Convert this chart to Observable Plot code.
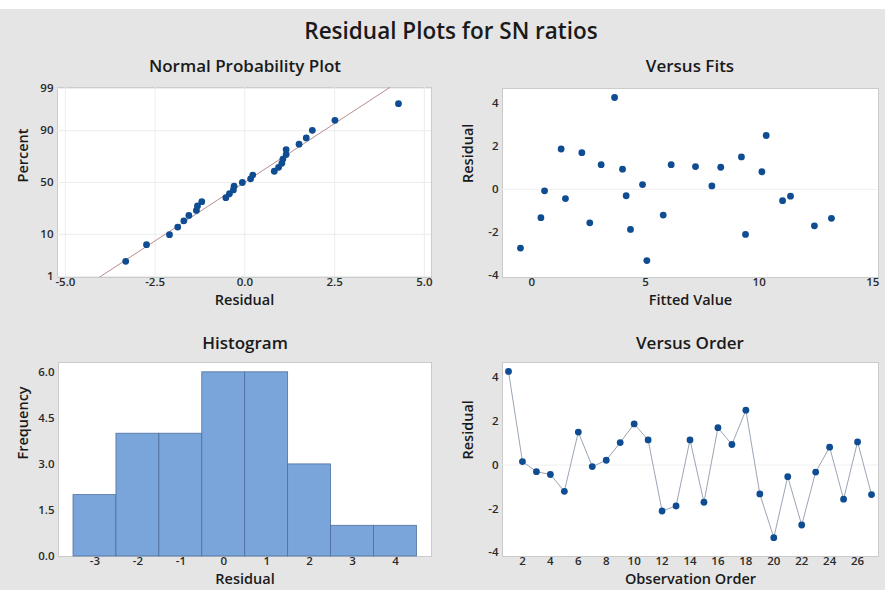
<!DOCTYPE html>
<html><head><meta charset="utf-8">
<script src="https://cdn.jsdelivr.net/npm/d3@7"></script>
<script src="https://cdn.jsdelivr.net/npm/@observablehq/plot@0.6"></script>
<style>
body{margin:0;background:#fff;}
#wrap{position:relative;width:885px;height:590px;background:#e5e5e5;overflow:hidden;font-family:"Open Sans",sans-serif;}
#band{position:absolute;left:0;top:0;width:885px;height:9px;background:#fff;}
.t{position:absolute;font-weight:600;color:#1a1a1a;white-space:nowrap;transform:translate(-50%,-50%);}
.panel{position:absolute;}
</style></head><body>
<div id="wrap">
  <div id="band"></div>
  <div class="t" style="left:451px;top:30px;font-size:22.5px;">Residual Plots for SN ratios</div>
  <div class="t" style="left:245px;top:65px;font-size:17px;">Normal Probability Plot</div>
  <div class="t" style="left:690px;top:65px;font-size:17px;">Versus Fits</div>
  <div class="t" style="left:245px;top:342px;font-size:17px;">Histogram</div>
  <div class="t" style="left:690px;top:342px;font-size:17px;">Versus Order</div>
  <div class="panel" id="p1" style="left:0;top:80px;"></div>
  <div class="panel" id="p2" style="left:445px;top:80px;"></div>
  <div class="panel" id="p3" style="left:0;top:330px;"></div>
  <div class="panel" id="p4" style="left:445px;top:330px;"></div>
</div>
<script>
// ---- data (by observation order) ----
const residuals = [4.28, 0.16, -0.30, -0.43, -1.20, 1.51, -0.07, 0.22, 1.03, 1.88,
  1.15, -2.10, -1.87, 1.15, -1.70, 1.71, 0.94, 2.51, -1.32, -3.32,
  -0.53, -2.74, -0.32, 0.82, -1.56, 1.06, -1.35];
const fits = [3.64, 7.92, 4.15, 1.48, 5.78, 9.22, 0.56, 4.87, 8.31, 1.29,
  3.05, 9.40, 4.34, 6.13, 12.43, 2.20, 3.99, 10.31, 0.40, 5.06,
  11.03, -0.50, 11.38, 10.12, 2.55, 7.20, 13.18];

const nppXTicks = [-5, -2.5, 0, 2.5, 5];
const pctTicks = [1, 10, 50, 90, 99];
const fitXTicks = [0, 5, 10, 15];
const resTicks = [-4, -2, 0, 2, 4];
const histEdges = [-3.5, -2.5, -1.5, -0.5, 0.5, 1.5, 2.5, 3.5, 4.5];
const histXTicks = [-3, -2, -1, 0, 1, 2, 3, 4];
const freqTicks = [0, 1.5, 3, 4.5, 6];
const orderTicks = [2, 4, 6, 8, 10, 12, 14, 16, 18, 20, 22, 24, 26];

// inverse standard normal (Acklam)
function probit(p) {
  const a = [-3.969683028665376e+01, 2.209460984245205e+02, -2.759285104469687e+02, 1.383577518672690e+02, -3.066479806614716e+01, 2.506628277459239e+00];
  const b = [-5.447609879822406e+01, 1.615858368580409e+02, -1.556989798598866e+02, 6.680131188771972e+01, -1.328068155288572e+01];
  const c = [-7.784894002430293e-03, -3.223964580411365e-01, -2.400758277161838e+00, -2.549732539343734e+00, 4.374664141464968e+00, 2.938163982698783e+00];
  const d = [7.784695709041462e-03, 3.224671290700398e-01, 2.445134137142996e+00, 3.754408661907416e+00];
  const pl = 0.02425, ph = 1 - pl;
  let q, r;
  if (p < pl) { q = Math.sqrt(-2 * Math.log(p)); return (((((c[0]*q+c[1])*q+c[2])*q+c[3])*q+c[4])*q+c[5]) / ((((d[0]*q+d[1])*q+d[2])*q+d[3])*q+1); }
  if (p <= ph) { q = p - 0.5; r = q*q; return (((((a[0]*r+a[1])*r+a[2])*r+a[3])*r+a[4])*r+a[5])*q / (((((b[0]*r+b[1])*r+b[2])*r+b[3])*r+b[4])*r+1); }
  q = Math.sqrt(-2 * Math.log(1 - p)); return -(((((c[0]*q+c[1])*q+c[2])*q+c[3])*q+c[4])*q+c[5]) / ((((d[0]*q+d[1])*q+d[2])*q+d[3])*q+1);
}

const DOT = "#0f4c92";
const FRAME = "#cbcbcb";
const style = {background: "transparent", fontFamily: "'Open Sans', sans-serif", fontSize: "11.5px", fontWeight: 600, color: "#2a2a2a", overflow: "visible"};
const num1 = d => d.toFixed(1);
const int = d => String(d);
function xLabel(txt, dy) { return Plot.text([txt], {frameAnchor: "bottom", dy, text: d => d, fontSize: 14.5, fill: "#1a1a1a"}); }
function yLabel(txt, dx) { return Plot.text([txt], {frameAnchor: "left", dx, rotate: -90, text: d => d, fontSize: 14.5, fill: "#1a1a1a"}); }

// ---- Normal probability plot ----
const sorted = residuals.slice().sort(d3.ascending);
const n = sorted.length;
const npp = sorted.map((r, i) => ({r, z: probit((i + 1 - 0.3) / (n + 0.4))}));
const mu = d3.mean(residuals), sd = d3.deviation(residuals);
const zDom = [-2.35, 2.35];
const fitLine = zDom.map(z => ({x: mu + sd * z, z}));
const pctZ = pctTicks.map(p => probit(p / 100));

document.getElementById("p1").append(Plot.plot({
  width: 445, height: 230, marginLeft: 57, marginRight: 14, marginTop: 7, marginBottom: 33, style,
  x: {domain: [-5.22, 5.2], ticks: nppXTicks, tickFormat: num1, tickSize: 0, tickPadding: 0, label: null},
  y: {domain: zDom, ticks: pctZ, tickFormat: d => pctTicks[pctZ.findIndex(v => Math.abs(v - d) < 1e-9)], tickSize: 0, tickPadding: 4, label: null},
  marks: [
    Plot.frame({fill: "white", stroke: FRAME}),
    Plot.ruleX(nppXTicks, {stroke: "#ececec"}),
    Plot.ruleY(pctZ, {stroke: "#ececec"}),
    Plot.line(fitLine, {x: "x", y: "z", stroke: "#b88e8e", strokeWidth: 1, clip: true}),
    Plot.dot(npp, {x: "r", y: "z", r: 3.4, fill: DOT}),
    xLabel("Residual", 27),
    yLabel("Percent", -34)
  ]
}));

// ---- Versus Fits ----
const fitsData = residuals.map((r, i) => ({fit: fits[i], r}));
document.getElementById("p2").append(Plot.plot({
  width: 440, height: 230, marginLeft: 57, marginRight: 7, marginTop: 8, marginBottom: 33, style,
  x: {domain: [-1.29, 15.25], ticks: fitXTicks, tickFormat: int, tickSize: 0, tickPadding: 0, label: null},
  y: {domain: [-4.11, 4.7], ticks: resTicks, tickFormat: int, tickSize: 0, tickPadding: 4, label: null},
  marks: [
    Plot.frame({fill: "white", stroke: FRAME}),
    Plot.ruleY([0], {stroke: "#efefef"}),
    Plot.dot(fitsData, {x: "fit", y: "r", r: 3.4, fill: DOT}),
    xLabel("Fitted Value", 27),
    yLabel("Residual", -34)
  ]
}));

// ---- Histogram ----
const bins = histEdges.slice(0, -1).map((e, i) => ({x1: e, x2: histEdges[i + 1], count: residuals.filter(r => r >= e && r < histEdges[i + 1]).length}));
document.getElementById("p3").append(Plot.plot({
  width: 445, height: 260, marginLeft: 58, marginRight: 14, marginTop: 32, marginBottom: 34, style,
  x: {domain: [-3.85, 4.84], ticks: histXTicks, tickFormat: int, tickSize: 0, tickPadding: 0, label: null},
  y: {domain: [0, 6.32], ticks: freqTicks, tickFormat: num1, tickSize: 0, tickPadding: 4, label: null},
  marks: [
    Plot.frame({fill: "white", stroke: FRAME}),
    Plot.rectY(bins, {x1: "x1", x2: "x2", y: "count", fill: "#7aa5da", stroke: "#4f6f9e", strokeWidth: 0.8}),
    xLabel("Residual", 27),
    yLabel("Frequency", -35)
  ]
}));

// ---- Versus Order ----
const orderData = residuals.map((r, i) => ({order: i + 1, r}));
document.getElementById("p4").append(Plot.plot({
  width: 440, height: 260, marginLeft: 57, marginRight: 7, marginTop: 32, marginBottom: 34, style,
  x: {domain: [0.57, 27.5], ticks: orderTicks, tickFormat: int, tickSize: 0, tickPadding: 0, label: null},
  y: {domain: [-4.18, 4.69], ticks: resTicks, tickFormat: int, tickSize: 0, tickPadding: 4, label: null},
  marks: [
    Plot.frame({fill: "white", stroke: FRAME}),
    Plot.ruleY([0], {stroke: "#efefef"}),
    Plot.line(orderData, {x: "order", y: "r", stroke: "#8e9bab", strokeWidth: 0.9}),
    Plot.dot(orderData, {x: "order", y: "r", r: 3.4, fill: DOT}),
    xLabel("Observation Order", 27),
    yLabel("Residual", -34)
  ]
}));
</script>
</body></html>
